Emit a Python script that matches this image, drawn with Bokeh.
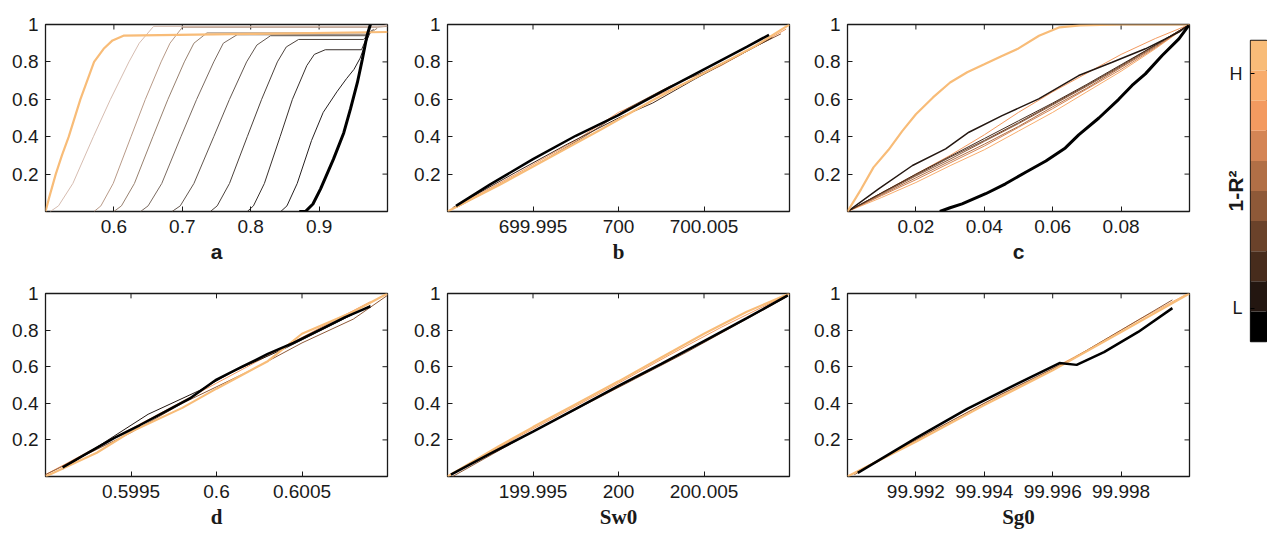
import math
from bokeh.plotting import figure
from bokeh.layouts import row, column
from bokeh.models import Range1d, FixedTicker
from bokeh.embed import file_html
from bokeh.resources import INLINE

# copper colormap: index 0 = L (black) ... index 9 = H (light orange)
copper = ["#000000", "#231610", "#472C1C", "#6A422A", "#8E5938",
          "#B16F46", "#D48555", "#F39A60", "#F8AC6C", "#F8BC78"]
# muted tones used for the thin lines of panel a (they read greyish in the figure)
a_thin_colors = ["#D6BCB0", "#B89A88", "#97806F", "#7A6A60", "#62564E", "#4C423C", "#38302C", "#262020"]

y_ticks = [0.2, 0.4, 0.6, 0.8, 1.0]
y_tick_labels = ["0.2", "0.4", "0.6", "0.8", "1"]

# ---------------- panel a ----------------
a_xticks = [0.6, 0.7, 0.8, 0.9]
a_xtick_labels = ["0.6", "0.7", "0.8", "0.9"]
a0_x = [0.500, 0.505, 0.515, 0.524, 0.534, 0.551, 0.571, 0.585, 0.598, 0.614, 0.800, 1.000]
a0_y = [0.00, 0.07, 0.20, 0.30, 0.40, 0.60, 0.80, 0.87, 0.915, 0.94, 0.95, 0.96]
a1_x = [0.507, 0.519, 0.540, 0.570, 0.595, 0.622, 0.637, 0.658, 0.990, 1.000]
a1_y = [0.00, 0.03, 0.15, 0.40, 0.60, 0.80, 0.90, 0.99, 0.99, 1.00]
a2_x = [0.571, 0.581, 0.599, 0.625, 0.646, 0.669, 0.682, 0.700, 0.985, 1.000]
a2_y = [0.00, 0.03, 0.15, 0.40, 0.60, 0.80, 0.90, 0.985, 0.985, 0.99]
a3_x = [0.600, 0.611, 0.630, 0.657, 0.679, 0.703, 0.717, 0.736, 0.975, 0.985]
a3_y = [0.00, 0.03, 0.15, 0.40, 0.60, 0.80, 0.90, 0.955, 0.955, 0.98]
a4_x = [0.639, 0.650, 0.670, 0.698, 0.721, 0.746, 0.760, 0.780, 0.970, 0.980]
a4_y = [0.00, 0.03, 0.15, 0.40, 0.60, 0.80, 0.90, 0.945, 0.945, 0.975]
a5_x = [0.685, 0.697, 0.717, 0.746, 0.769, 0.794, 0.809, 0.829, 0.968, 0.978]
a5_y = [0.00, 0.03, 0.15, 0.40, 0.60, 0.80, 0.89, 0.94, 0.94, 0.97]
a6_x = [0.741, 0.751, 0.769, 0.795, 0.816, 0.839, 0.852, 0.870, 0.965, 0.975]
a6_y = [0.00, 0.03, 0.15, 0.40, 0.60, 0.80, 0.88, 0.92, 0.92, 0.96]
a7_x = [0.795, 0.804, 0.820, 0.843, 0.861, 0.882, 0.893, 0.909, 0.962, 0.972]
a7_y = [0.00, 0.03, 0.15, 0.40, 0.60, 0.78, 0.84, 0.865, 0.865, 0.95]
a8_x = [0.844, 0.853, 0.868, 0.889, 0.906, 0.926, 0.940, 0.951, 0.960, 0.968, 0.975]
a8_y = [0.00, 0.03, 0.15, 0.38, 0.53, 0.64, 0.71, 0.76, 0.82, 0.90, 0.96]
a9_x = [0.871, 0.880, 0.891, 0.902, 0.921, 0.936, 0.946, 0.956, 0.963, 0.970, 0.975]
a9_y = [0.00, 0.00, 0.04, 0.12, 0.28, 0.42, 0.55, 0.69, 0.81, 0.94, 1.00]

# ---------------- panel b ----------------
b_xticks = [699.995, 700.0, 700.005]
b_xtick_labels = ["699.995", "700", "700.005"]
b0_x = [699.9900, 699.9930, 699.9960, 699.9990, 700.0020, 700.0050, 700.0080, 700.0100]
b0_y = [0.00, 0.14, 0.29, 0.44, 0.595, 0.74, 0.885, 1.00]
b1_x = [699.9902, 699.9940, 699.9975, 700.0000, 700.0030, 700.0060, 700.0098]
b1_y = [0.01, 0.20, 0.38, 0.53, 0.65, 0.78, 0.975]
b2_x = [699.9905, 699.9950, 699.9980, 700.0005, 700.0030, 700.0050, 700.0095]
b2_y = [0.02, 0.24, 0.40, 0.55, 0.67, 0.745, 0.95]
b3_x = [699.9903, 699.9940, 699.9970, 700.0000, 700.0020, 700.0045, 700.0090]
b3_y = [0.02, 0.21, 0.36, 0.50, 0.58, 0.71, 0.93]
b4_x = [699.9905, 699.9925, 699.9950, 699.9975, 700.0000, 700.0025, 700.0050, 700.0075, 700.0088]
b4_y = [0.03, 0.145, 0.28, 0.405, 0.515, 0.64, 0.76, 0.88, 0.945]

# ---------------- panel c ----------------
c_xticks = [0.02, 0.04, 0.06, 0.08]
c_xtick_labels = ["0.02", "0.04", "0.06", "0.08"]
c_grid_x = [0.0, 0.01, 0.02, 0.03, 0.04, 0.05, 0.06, 0.07, 0.08, 0.09, 0.1]
c0_x = [0.000, 0.004, 0.0076, 0.012, 0.016, 0.020, 0.025, 0.030, 0.035, 0.040, 0.045, 0.050, 0.056, 0.062, 0.068, 0.080, 0.100]
c0_y = [0.00, 0.12, 0.236, 0.33, 0.43, 0.52, 0.61, 0.69, 0.745, 0.787, 0.83, 0.872, 0.94, 0.985, 0.995, 1.00, 1.00]
c1_y = [0.0, 0.075, 0.155, 0.245, 0.33, 0.43, 0.53, 0.64, 0.75, 0.87, 1.0]
c2_y = [0.0, 0.10, 0.20, 0.30, 0.41, 0.53, 0.64, 0.74, 0.84, 0.925, 1.0]
c3_y = [0.0, 0.085, 0.17, 0.26, 0.35, 0.45, 0.55, 0.655, 0.76, 0.875, 1.0]
c4_y = [0.0, 0.09, 0.18, 0.27, 0.36, 0.455, 0.56, 0.66, 0.77, 0.88, 1.0]
c5_y = [0.0, 0.095, 0.19, 0.28, 0.375, 0.47, 0.57, 0.67, 0.775, 0.885, 1.0]
c6_y = [0.0, 0.10, 0.195, 0.29, 0.38, 0.475, 0.575, 0.675, 0.78, 0.89, 1.0]
c7_y = [0.0, 0.10, 0.20, 0.295, 0.39, 0.485, 0.58, 0.68, 0.785, 0.89, 1.0]
c8_x = [0.0, 0.0091, 0.019, 0.0287, 0.0355, 0.0452, 0.0559, 0.0676, 0.0774, 0.0871, 0.0969, 0.1]
c8_y = [0.0, 0.121, 0.246, 0.335, 0.424, 0.513, 0.602, 0.727, 0.798, 0.87, 0.959, 1.0]
c9_x = [0.0270, 0.0300, 0.0335, 0.0404, 0.0462, 0.0521, 0.0580, 0.0637, 0.0676, 0.0735, 0.0793, 0.0832, 0.0871, 0.0920, 0.0969, 0.0998]
c9_y = [0.00, 0.02, 0.041, 0.095, 0.148, 0.21, 0.27, 0.34, 0.41, 0.50, 0.60, 0.674, 0.736, 0.834, 0.923, 0.995]

# ---------------- panel d ----------------
d_xticks = [0.5995, 0.6, 0.6005]
d_xtick_labels = ["0.5995", "0.6", "0.6005"]
d0_x = [0.5990, 0.5993, 0.5995, 0.5998, 0.6000, 0.6003, 0.6005, 0.6008, 0.6010]
d0_y = [0.00, 0.13, 0.245, 0.375, 0.48, 0.63, 0.78, 0.90, 1.00]
d1_x = [0.5990, 0.5994, 0.5997, 0.6000, 0.6003, 0.6006, 0.6009]
d1_y = [0.01, 0.21, 0.36, 0.51, 0.66, 0.81, 0.955]
d2_x = [0.5990, 0.5995, 0.5998, 0.6002, 0.6005, 0.6008, 0.6010]
d2_y = [0.01, 0.24, 0.40, 0.58, 0.73, 0.86, 0.99]
d3_x = [0.5991, 0.5994, 0.5996, 0.5999, 0.6001, 0.6004, 0.6007, 0.6009]
d3_y = [0.04, 0.22, 0.34, 0.47, 0.575, 0.70, 0.84, 0.935]
d4_x = [0.59910, 0.59925, 0.59940, 0.59955, 0.59970, 0.59985, 0.60000, 0.60015, 0.60030, 0.60045, 0.60060, 0.60075, 0.60090]
d4_y = [0.05, 0.13, 0.21, 0.28, 0.355, 0.43, 0.53, 0.60, 0.67, 0.73, 0.80, 0.87, 0.93]

# ---------------- panel Sw0 ----------------
e_xticks = [199.995, 200.0, 200.005]
e_xtick_labels = ["199.995", "200", "200.005"]
e0_x = [199.9900, 199.9930, 199.9950, 199.9975, 200.0000, 200.0025, 200.0050, 200.0075, 200.0100]
e0_y = [0.00, 0.165, 0.27, 0.395, 0.52, 0.65, 0.78, 0.90, 1.00]
e1_x = [199.9902, 199.9940, 199.9970, 200.0000, 200.0030, 200.0060, 200.0098]
e1_y = [0.01, 0.21, 0.36, 0.51, 0.665, 0.815, 0.99]
e2_x = [199.9903, 199.9945, 199.9980, 200.0010, 200.0040, 200.0070, 200.0099]
e2_y = [0.00, 0.22, 0.39, 0.535, 0.68, 0.835, 0.985]
e3_x = [199.9902, 199.9925, 199.9950, 199.9975, 200.0000, 200.0025, 200.0050, 200.0075, 200.0099]
e3_y = [0.01, 0.125, 0.245, 0.37, 0.495, 0.615, 0.74, 0.865, 0.99]

# ---------------- panel Sg0 ----------------
f_xticks = [99.992, 99.994, 99.996, 99.998]
f_xtick_labels = ["99.992", "99.994", "99.996", "99.998"]
f0_x = [99.9900, 99.9920, 99.9940, 99.9960, 99.9980, 100.0000]
f0_y = [0.00, 0.19, 0.39, 0.58, 0.79, 1.00]
f1_x = [99.9901, 99.9920, 99.9940, 99.9955, 99.9970, 99.9985, 99.9999]
f1_y = [0.01, 0.20, 0.40, 0.54, 0.69, 0.855, 0.995]
f2_x = [99.9902, 99.9925, 99.9945, 99.9965, 99.9980, 99.9995]
f2_y = [0.01, 0.25, 0.45, 0.635, 0.80, 0.965]
f3_x = [99.9903, 99.9920, 99.9935, 99.9950, 99.9962, 99.9967, 99.9975, 99.9985, 99.9995]
f3_y = [0.02, 0.21, 0.37, 0.51, 0.62, 0.61, 0.68, 0.79, 0.92]

# ---------------- colour bar ----------------
cbar_band = [0, 1, 2, 3, 4, 5, 6, 7, 8, 9]
cbar_ticks = [1.1, 8.9]
cbar_tick_labels = ["L", "H"]

SANS = "Liberation Sans"
SERIF = "Liberation Serif"
INK = "#1a1a1a"
FRAME_W = 342


def panel(xr, xticks, xlabels, xlabel, lab_font, curves, w, h, ml, mr, mt, mb, fh):
    p = figure(width=w, height=h, x_range=Range1d(*xr), y_range=Range1d(0, 1),
               min_border_left=ml, min_border_right=mr, min_border_top=mt,
               min_border_bottom=mb, output_backend="svg", toolbar_location=None)
    p.xgrid.visible = False
    p.ygrid.visible = False
    p.outline_line_color = INK
    p.outline_line_width = 1.3
    p.background_fill_color = "white"
    p.border_fill_color = "white"
    p.xaxis.ticker = FixedTicker(ticks=xticks)
    p.xaxis.major_label_overrides = dict(zip(xticks, xlabels))
    p.yaxis.ticker = FixedTicker(ticks=y_ticks)
    p.yaxis.major_label_overrides = dict(zip(y_ticks, y_tick_labels))
    p.xaxis.axis_label = xlabel
    p.xaxis.axis_label_text_font = lab_font
    p.xaxis.axis_label_text_font_style = "bold"
    p.xaxis.axis_label_text_font_size = "21px"
    p.xaxis.axis_label_text_color = INK
    p.xaxis.axis_label_standoff = 4
    p.xaxis.major_label_standoff = 8
    p.yaxis.major_label_standoff = 7
    for ax in (p.xaxis, p.yaxis):
        ax.axis_line_color = None
        ax.major_tick_in = 5
        ax.major_tick_out = 0
        ax.major_tick_line_color = INK
        ax.minor_tick_line_color = None
        ax.major_label_text_font = SANS
        ax.major_label_text_font_size = "19px"
        ax.major_label_text_color = INK
    # mirrored inward ticks on the top and right edges of the box
    tick_dy = 5.0 / fh
    tick_dx = 5.0 / FRAME_W * (xr[1] - xr[0])
    p.segment(x0=xticks, x1=xticks, y0=[1.0] * len(xticks), y1=[1.0 - tick_dy] * len(xticks),
              line_color=INK, line_width=1)
    p.segment(x0=[xr[1]] * len(y_ticks), x1=[xr[1] - tick_dx] * len(y_ticks), y0=y_ticks, y1=y_ticks,
              line_color=INK, line_width=1)
    for xs, ys, col, lw in curves:
        p.line(xs, ys, line_color=col, line_width=lw)
    return p


# page starts at the window corner: the 8px page margin is added to the borders
H1, MT1, MB1, FH1 = 273, 24, 62, 187
H2, MT2, MB2, FH2 = 258, 20, 50, 188
C = copper

pa = panel((0.5, 1.0), a_xticks, a_xtick_labels, "a", SANS,
           [(a1_x, a1_y, a_thin_colors[0], 1), (a2_x, a2_y, a_thin_colors[1], 1),
            (a3_x, a3_y, a_thin_colors[2], 1), (a4_x, a4_y, a_thin_colors[3], 1),
            (a5_x, a5_y, a_thin_colors[4], 1), (a6_x, a6_y, a_thin_colors[5], 1),
            (a7_x, a7_y, a_thin_colors[6], 1), (a8_x, a8_y, a_thin_colors[7], 1),
            (a0_x, a0_y, C[9], 2.2), (a9_x, a9_y, C[0], 3)],
           407, H1, 45, 20, MT1, MB1, FH1)
pb = panel((699.99, 700.01), b_xticks, b_xtick_labels, "b", SERIF,
           [(b1_x, b1_y, C[7], 1), (b2_x, b2_y, C[4], 1), (b3_x, b3_y, C[2], 1),
            (b0_x, b0_y, C[9], 2.2), (b4_x, b4_y, C[0], 2.5)],
           400, H1, 40, 18, MT1, MB1, FH1)
pc = panel((0.0, 0.1), c_xticks, c_xtick_labels, "c", SANS,
           [(c_grid_x, c1_y, C[8], 1), (c_grid_x, c2_y, C[7], 1), (c_grid_x, c3_y, C[6], 1),
            (c_grid_x, c4_y, C[5], 1), (c_grid_x, c5_y, C[4], 1), (c_grid_x, c6_y, C[3], 1),
            (c_grid_x, c7_y, C[2], 1), (c8_x, c8_y, C[1], 1.5),
            (c0_x, c0_y, C[9], 2.2), (c9_x, c9_y, C[0], 3)],
           392, H1, 40, 10, MT1, MB1, FH1)
pd = panel((0.599, 0.601), d_xticks, d_xtick_labels, "d", SERIF,
           [(d1_x, d1_y, C[7], 1), (d2_x, d2_y, C[4], 1), (d3_x, d3_y, C[1], 1),
            (d0_x, d0_y, C[9], 2.2), (d4_x, d4_y, C[0], 2.5)],
           407, H2, 45, 20, MT2, MB2, FH2)
pe = panel((199.99, 200.01), e_xticks, e_xtick_labels, "Sw0", SERIF,
           [(e1_x, e1_y, C[7], 1), (e2_x, e2_y, C[4], 1),
            (e0_x, e0_y, C[9], 2.2), (e3_x, e3_y, C[0], 2.5)],
           400, H2, 40, 18, MT2, MB2, FH2)
pf = panel((99.990, 100.0), f_xticks, f_xtick_labels, "Sg0", SERIF,
           [(f1_x, f1_y, C[8], 1), (f2_x, f2_y, C[4], 1),
            (f0_x, f0_y, C[9], 2.2), (f3_x, f3_y, C[0], 2.5)],
           392, H2, 40, 10, MT2, MB2, FH2)

# colour bar
CB_TOP, CB_H = 40, 301
cb = figure(width=68, height=H1 + H2, x_range=Range1d(0, 1), y_range=Range1d(0, 10),
            min_border_left=51, min_border_right=0, min_border_top=CB_TOP,
            min_border_bottom=H1 + H2 - CB_TOP - CB_H, output_backend="svg", toolbar_location=None)
cb.quad(left=0, right=1, bottom=cbar_band, top=[b + 1 for b in cbar_band],
        fill_color=[copper[b] for b in cbar_band], line_color=None)
cb.xgrid.visible = False
cb.ygrid.visible = False
cb.xaxis.visible = False
cb.outline_line_color = INK
cb.outline_line_width = 1.3
cb.yaxis.ticker = FixedTicker(ticks=cbar_ticks)
cb.yaxis.major_label_overrides = dict(zip(cbar_ticks, cbar_tick_labels))
cb.yaxis.axis_line_color = None
cb.yaxis.major_tick_in = 4
cb.yaxis.major_tick_out = 0
cb.yaxis.minor_tick_line_color = None
cb.yaxis.major_label_text_font = SANS
cb.yaxis.major_label_text_font_size = "18px"
cb.yaxis.major_label_text_color = INK
cb.yaxis.major_label_standoff = 8
cb.yaxis.axis_label = "1-R²"
cb.yaxis.axis_label_text_font = SANS
cb.yaxis.axis_label_text_font_style = "bold"
cb.yaxis.axis_label_text_font_size = "21px"
cb.yaxis.axis_label_text_color = INK
cb.yaxis.axis_label_standoff = -20

layout = row(column(row(pa, pb, pc), row(pd, pe, pf)), cb)
open("out.html", "w").write(file_html(layout, INLINE))
